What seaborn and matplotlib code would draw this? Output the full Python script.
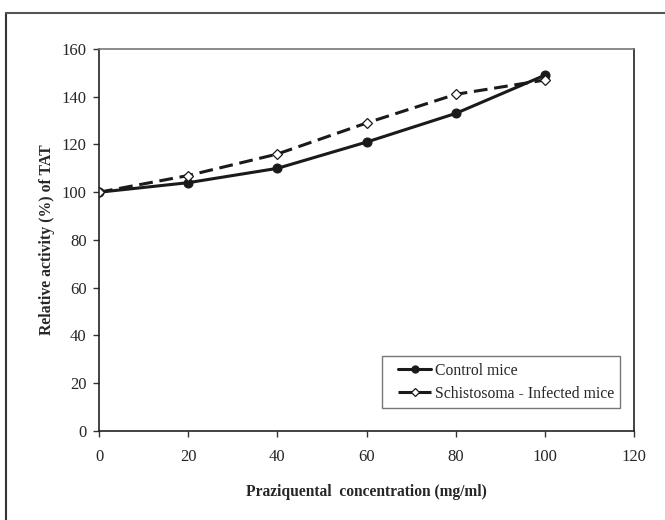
import numpy as np
import pandas as pd
import matplotlib
matplotlib.use("Agg")
import matplotlib.pyplot as plt
from matplotlib.lines import Line2D
from matplotlib.legend_handler import HandlerLine2D
import seaborn as sns

sns.set_style("ticks")
plt.rcParams['font.family'] = ['Liberation Serif', 'DejaVu Serif']

# data
conc = [0, 20, 40, 60, 80, 100]
control = [100, 104, 110, 121, 133, 149]
infected = [100, 107, 116, 129, 141, 147]

df_c = pd.DataFrame({'conc': conc, 'act': control})
df_i = pd.DataFrame({'conc': conc, 'act': infected})

fig = plt.figure(figsize=(6.65, 5.2), dpi=100)
ax = fig.add_axes([0.1489, 0.1712, 0.8045, 0.7346])

sns.lineplot(data=df_c, x='conc', y='act', ax=ax, color='#1a1a1a', lw=2.2,
             marker='o', markersize=6.5, markerfacecolor='#1a1a1a',
             markeredgecolor='#1a1a1a', label='Control mice')
sns.lineplot(data=df_i, x='conc', y='act', ax=ax, color='#1a1a1a', lw=2.2,
             linestyle=(0, (4.5, 2.2)), marker='D', markersize=5.5,
             markerfacecolor='white', markeredgecolor='#1a1a1a',
             markeredgewidth=0.9, label='Schistosoma - Infected mice')

ax.set_xlim(0, 120)
ax.set_ylim(0, 160)
ax.set_xticks(range(0, 121, 20))
ax.set_yticks(range(0, 161, 20))
ax.tick_params(labelsize=12, length=4, width=1, color='#333333', pad=5)
ax.tick_params(axis='x', pad=9)
for s in ax.spines.values():
    s.set_linewidth(1.2)
    s.set_color('#222222')
ax.spines['top'].set_color('#777777')

ax.set_xlabel('Praziquental  concentration (mg/ml)', fontsize=11.2,
              fontweight='bold', labelpad=14)
ax.set_ylabel('Relative activity (%) of TAT', fontsize=11.3,
              fontweight='bold', labelpad=5)

leg = ax.legend(loc='lower right', bbox_to_anchor=(0.974, 0.060),
                fontsize=11.3, frameon=True, fancybox=False, handlelength=2.75,
                handletextpad=0.2, borderpad=0.4, labelspacing=0.45,
                borderaxespad=0, markerscale=0.8,
                handler_map={Line2D: HandlerLine2D(xpad=0.65)})
leg.get_frame().set_edgecolor('#555555')
leg.get_frame().set_linewidth(1)

# partial border around the figure (top and left)
fig.add_artist(plt.Line2D([6 / 665, 6 / 665], [0, 1 - 13 / 520],
                          transform=fig.transFigure, color='#333333', lw=1.5))
fig.add_artist(plt.Line2D([6 / 665, 1], [1 - 13 / 520, 1 - 13 / 520],
                          transform=fig.transFigure, color='#555555', lw=1.5))

fig.savefig('out.png', dpi=100)
